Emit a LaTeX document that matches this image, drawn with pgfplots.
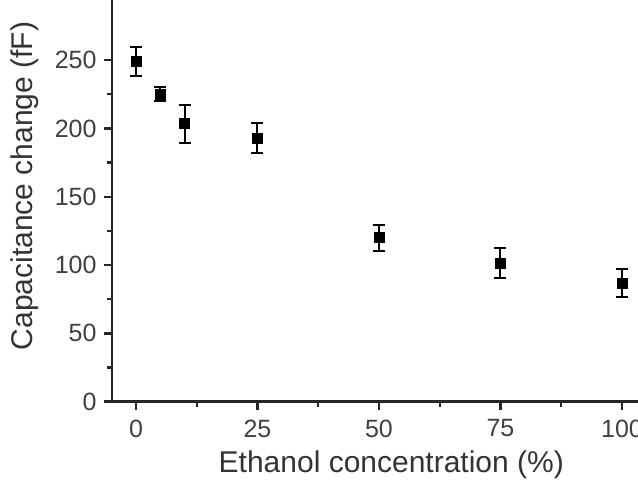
\documentclass[border=0pt]{standalone}
\usepackage{pgfplots}
\pgfplotsset{compat=1.18}
\usepackage{fontspec}
\setmainfont{Liberation Sans}

\begin{document}
\begin{tikzpicture}
\begin{axis}[
  scale only axis, width=263pt, height=200.85pt,
  xmin=-4.94, xmax=103.3, ymin=0, ymax=294,
  axis x line=bottom, axis y line=left,
  axis line style={-, line width=1.4pt, black!85},
  xtick={0,25,50,75,100}, ytick={0,50,...,250},
  minor x tick num=1, minor y tick num=1,
  tick align=outside,
  major tick length=4.2pt, minor tick length=2.5pt,
  every tick/.style={line width=1.2pt, black!85},
  tick label style={font=\fontsize{12.5}{14}\selectfont, text=black!75},
  xticklabel style={yshift=-1.2pt},
  /pgf/number format/assume math mode=true,
  xlabel={Ethanol concentration (\%)},
  ylabel={Capacitance change (fF)},
  every axis x label/.style={at={([yshift=-35.5pt]rel axis cs:0.531,0)}, anchor=base, font=\fontsize{15}{17}\selectfont, text=black!80},
  every axis y label/.style={at={([xshift=-39.5pt]rel axis cs:0,0.537)}, anchor=base, rotate=90, font=\fontsize{15}{17}\selectfont, text=black!80},
]
\addplot[only marks, mark=square*, mark size=2.5pt, black,
  error bars/.cd, y dir=both, y explicit,
  error bar style={line width=1pt},
  error mark options={rotate=90, mark size=3pt, line width=1pt}]
  coordinates {
  (0,249) +- (0,10.5)
  (5,225) +- (0,5)
  (10,203.4) +- (0,13.8)
  (25,193) +- (0,11.3)
  (50,120) +- (0,9.5)
  (75,101.3) +- (0,11)
  (100,86.8) +- (0,10.4)
};
\coordinate (bl) at (rel axis cs:0,0);
\coordinate (tr) at (rel axis cs:1,1);
\end{axis}
\pgfresetboundingbox
\path[use as bounding box] ([xshift=-56pt,yshift=-42.15pt]bl) rectangle (tr);
\end{tikzpicture}
\end{document}
